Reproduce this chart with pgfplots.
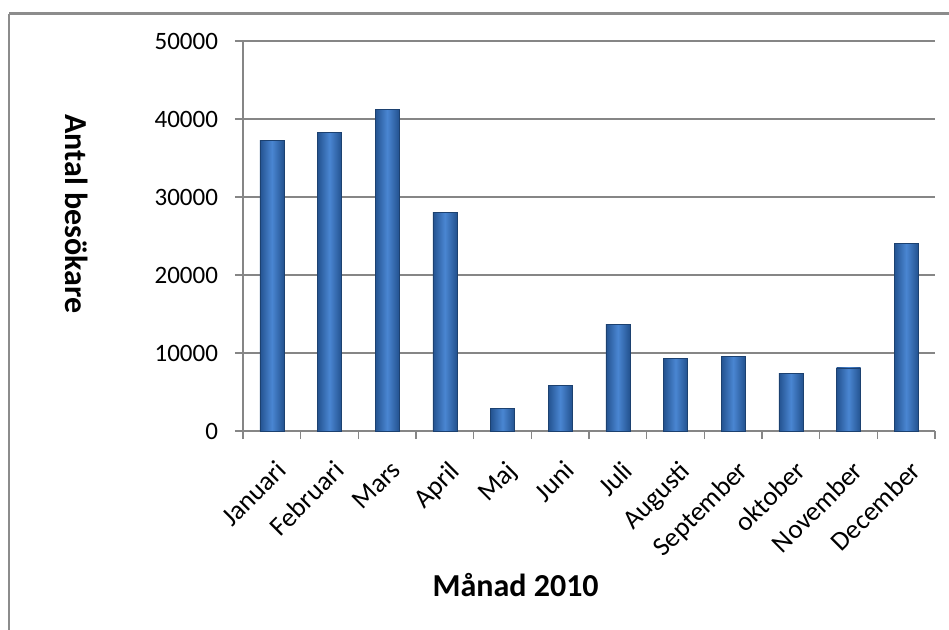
\documentclass[border=0pt]{standalone}
\usepackage{pgfplots}
\pgfplotsset{compat=1.18}
\usepackage{fontspec}
\setmainfont{Carlito}
\definecolor{gridgray}{HTML}{868686}
\definecolor{barmid}{HTML}{4A86D2}
\definecolor{baredge}{HTML}{23528F}
\definecolor{barline}{HTML}{1C4170}
\definecolor{framegray}{HTML}{8C8C8C}
\pgfplotsset{mybar/.style={ybar, bar width=12pt, bar shift=0pt, draw=barline, line width=0.3pt, left color=baredge, right color=baredge, middle color=barmid}}
\begin{document}
\begin{tikzpicture}
\useasboundingbox (0,0) rectangle (474.5pt,-315pt);
\draw[framegray, line width=1.5pt] (600pt,-7pt) -- (4.5pt,-7pt);
\draw[framegray, line width=0.8pt] (4.5pt,-7pt) -- (4.5pt,-400pt);
\begin{axis}[
  at={(121.5pt,-215.5pt)}, anchor=south west,
  scale only axis, width=346pt, height=195pt,
  ymin=0, ymax=50000, xmin=0.5, xmax=12.5,
  axis x line*=bottom, axis y line*=left,
  axis line style={gridgray, line width=0.6pt},
  tick align=outside,
  ytick={0,10000,...,50000},
  xtick={1,...,12},
  minor xtick={0.5,1.5,...,12.5},
  xticklabels={Januari,Februari,Mars,April,Maj,Juni,Juli,Augusti,September,oktober,November,December},
  major x tick style={draw=none},
  minor x tick style={gridgray, line width=0.6pt},
  major tick length=4pt, minor tick length=4pt,
  y tick style={gridgray, line width=0.6pt},
  ymajorgrids, grid style={gridgray, line width=0.6pt},
  scaled y ticks=false,
  /pgf/number format/assume math mode=true,
  /pgf/number format/1000 sep={},
  yticklabel style={font=\fontsize{12.5}{13}\selectfont, xshift=-5pt},
  xticklabel style={rotate=45, anchor=north east, font=\fontsize{13.5}{14}\selectfont, inner sep=0pt, xshift=-6pt, yshift=-8pt},
  xlabel={\bfseries Månad 2010},
  xlabel style={at={(axis description cs:0.394,-0.395)}, anchor=center, font=\fontsize{16}{16}\selectfont},
  ylabel={\bfseries Antal besökare},
  ylabel style={at={(axis description cs:-0.2399,0.5564)}, anchor=center, rotate=180, font=\fontsize{16}{16}\selectfont},
  clip=false,
]
\addplot[mybar] coordinates {(1,37300)};
\addplot[mybar] coordinates {(2,38300)};
\addplot[mybar] coordinates {(3,41250)};
\addplot[mybar] coordinates {(4,28000)};
\addplot[mybar] coordinates {(5,2900)};
\addplot[mybar] coordinates {(6,5850)};
\addplot[mybar] coordinates {(7,13700)};
\addplot[mybar] coordinates {(8,9350)};
\addplot[mybar] coordinates {(9,9600)};
\addplot[mybar] coordinates {(10,7400)};
\addplot[mybar] coordinates {(11,8100)};
\addplot[mybar] coordinates {(12,24100)};
\end{axis}
\end{tikzpicture}
\end{document}
